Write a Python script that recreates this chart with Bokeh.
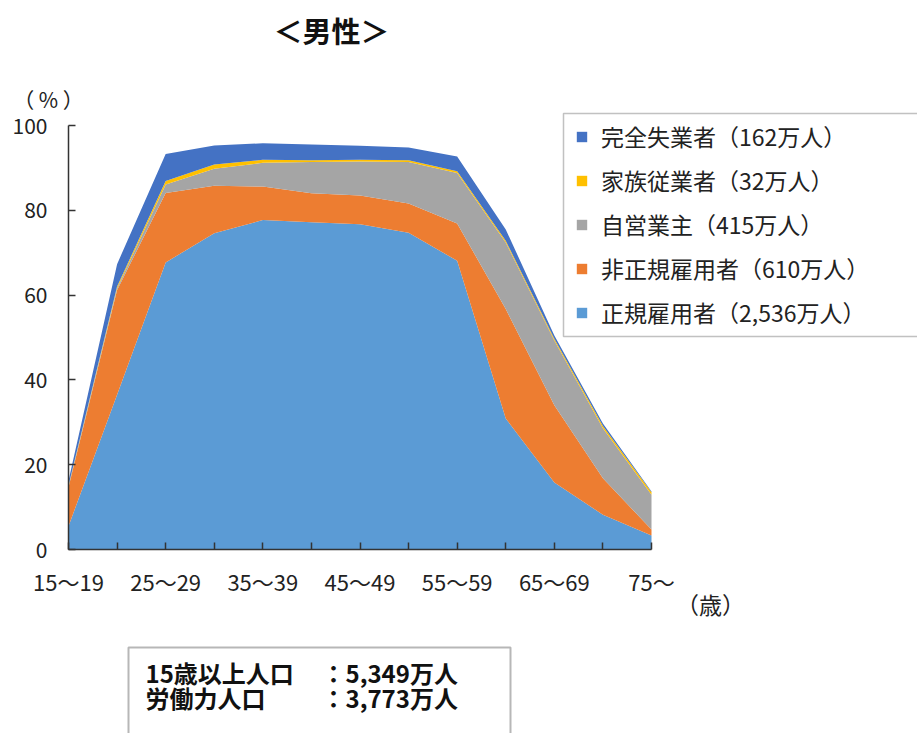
from bokeh.plotting import figure
from bokeh.models import (ColumnDataSource, Range1d, FixedTicker, Legend, LegendItem,
                          Label, BoxAnnotation)
from bokeh.embed import file_html
from bokeh.resources import INLINE

# ---- data ----
categories = ["15〜19", "20〜24", "25〜29", "30〜34", "35〜39", "40〜44", "45〜49",
              "50〜54", "55〜59", "60〜64", "65〜69", "70〜74", "75〜"]
regular = [5.5, 36.5, 67.7, 74.6, 77.7, 77.2, 76.7, 74.7, 68.1, 30.9, 15.8, 8.2, 3.3]
nonregular = [9.2, 24.7, 16.4, 11.2, 7.9, 6.8, 6.8, 6.9, 8.8, 25.8, 18.2, 8.6, 1.4]
self_employed = [0.2, 0.4, 2.0, 4.0, 5.6, 7.4, 8.0, 9.8, 11.9, 15.7, 15.3, 11.8, 8.2]
family_workers = [0.2, 0.4, 0.8, 1.0, 0.7, 0.4, 0.4, 0.4, 0.4, 0.4, 0.4, 0.5, 0.6]
unemployed = [1.1, 5.3, 6.4, 4.5, 3.9, 3.7, 3.3, 3.0, 3.5, 2.7, 0.8, 0.6, 0.2]

series_names = ["regular", "nonregular", "self_employed", "family_workers", "unemployed"]
series_labels = ["正規雇用者（2,536万人）", "非正規雇用者（610万人）", "自営業主（415万人）",
                 "家族従業者（32万人）", "完全失業者（162万人）"]
series_colors = ["#5B9BD5", "#ED7D31", "#A5A5A5", "#FFC000", "#4472C4"]
shown_tick_labels = ["15〜19", "25〜29", "35〜39", "45〜49", "55〜59", "65〜69", "75〜"]
y_ticks = [0, 20, 40, 60, 80, 100]

title_text = "＜男性＞"
y_unit = "（ % ）"
x_unit = "（歳）"
info_left = ["15歳以上人口", "労働力人口"]
info_right = ["：5,349万人", "：3,773万人"]

FONT = "Noto Sans CJK JP"
W, H = 917, 733
# plot area placement on the canvas (pixels)
PX0, PX1, PY_TOP, PY_BOT = 68, 651, 125, 549

n = len(categories)
xs_per_px = (n - 1) / (PX1 - PX0)
ys_per_px = 100 / (PY_BOT - PY_TOP)

src = ColumnDataSource(dict(
    x=list(range(n)),
    regular=regular, nonregular=nonregular, self_employed=self_employed,
    family_workers=family_workers, unemployed=unemployed,
))

p = figure(width=W, height=H, output_backend="svg", toolbar_location=None,
           x_range=Range1d(-PX0 * xs_per_px, (W - PX0) * xs_per_px),
           y_range=Range1d(-(H - PY_BOT) * ys_per_px, PY_BOT * ys_per_px),
           min_border=0)
p.outline_line_color = None
p.grid.visible = False
p.background_fill_color = "white"
p.border_fill_color = "white"

renderers = p.varea_stack(stackers=series_names, x="x", source=src,
                          color=series_colors)

# axes, pinned to the data origin
p.xaxis.fixed_location = 0
p.yaxis.fixed_location = 0
p.xaxis.bounds = (0, n - 1)
p.yaxis.bounds = (0, 100)
p.yaxis.ticker = FixedTicker(ticks=y_ticks)
p.xaxis.ticker = FixedTicker(ticks=list(range(n)))
p.xaxis.major_label_overrides = {i: (c if c in shown_tick_labels else "")
                                 for i, c in enumerate(categories)}
for ax in (p.xaxis, p.yaxis):
    ax.axis_line_color = "#333333"
    ax.axis_line_width = 1.5
    ax.major_tick_line_color = "#333333"
    ax.major_tick_line_width = 1.5
    ax.major_tick_in = 7
    ax.major_tick_out = 0
    ax.minor_tick_line_color = None
    ax.major_label_text_font = FONT
    ax.major_label_text_color = "#222222"
p.xaxis.major_label_text_font_size = "22px"
p.yaxis.major_label_text_font_size = "21px"
p.xaxis.major_label_standoff = 15
p.yaxis.major_label_standoff = 21

# legend frame (runs off the right edge as in the reference)
p.add_layout(BoxAnnotation(left=563, right=W + 10, top=H - 113, bottom=H - 336,
                           left_units="screen", right_units="screen",
                           top_units="screen", bottom_units="screen",
                           fill_color="white", fill_alpha=1,
                           line_color="#333333", line_width=1.5))
items = [LegendItem(label=series_labels[i], renderers=[renderers[i]])
         for i in reversed(range(len(series_names)))]
legend = Legend(items=items, location=(575, H - 329), orientation="vertical",
                label_text_font=FONT, label_text_font_size="23px",
                label_text_color="#222222",
                glyph_width=13, glyph_height=13, label_standoff=13,
                label_height=34, spacing=10, padding=8, margin=0,
                border_line_color=None, background_fill_alpha=0)
p.add_layout(legend, "center")

def lab(x, y, text, size, bold=False, align="left", color="#222222"):
    p.add_layout(Label(x=x, y=H - y, x_units="screen", y_units="screen", text=text,
                       text_font=FONT, text_font_size=size,
                       text_font_style="bold" if bold else "normal",
                       text_align=align, text_baseline="middle", text_color=color))

lab(331, 29, title_text, "29px", bold=True, align="center", color="#111111")
lab(48, 98, y_unit, "21px", align="center")
lab(710, 603, x_unit, "23px", align="center")

p.add_layout(BoxAnnotation(left=128, right=510, top=H - 647, bottom=-20,
                           left_units="screen", right_units="screen",
                           top_units="screen", bottom_units="screen",
                           fill_color="white", fill_alpha=1,
                           line_color="#111111", line_width=2))
for i in range(len(info_left)):
    yy = 672 + 25 * i
    lab(145, yy, info_left[i], "24px", bold=True, color="#111111")
    lab(321, yy, info_right[i], "24px", bold=True, color="#111111")

open("out.html", "w").write(file_html(p, INLINE))
